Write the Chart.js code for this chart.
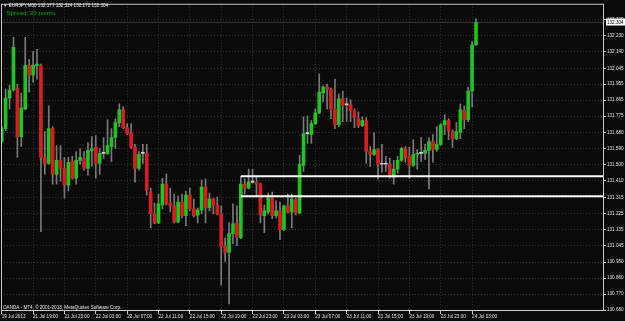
<!DOCTYPE html>
<html>
<head>
<meta charset="utf-8">
<script src="https://cdn.jsdelivr.net/npm/chart.js@4.4.0/dist/chart.umd.min.js"></script>
<style>
  html, body { margin: 0; padding: 0; background: #0b0b0b; }
  canvas { display: block; }
</style>
</head>
<body>
<canvas id="chart" width="625" height="321"></canvas>
<script>
// EURJPY M30, one entry per bar (oldest first)
const symbol = 'EURJPY,M30';
const spreadText = 'Spread: 20 points.';
const footerText = 'OANDA - MT4, \u00a9 2001-2013, MetaQuotes Software Corp.';

const opens = [
  131.631, 131.704, 131.877, 131.922, 131.933, 131.659, 131.816, 132.062, 132.006, 132.059,
  132.062, 131.542, 131.508, 131.704, 131.447, 131.525, 131.480, 131.385, 131.519, 131.424,
  131.525, 131.536, 131.480, 131.581, 131.598, 131.508, 131.564, 131.564, 131.603, 131.654,
  131.738, 131.810, 131.710, 131.682, 131.598, 131.480, 131.564, 131.564, 131.346, 131.223,
  131.172, 131.273, 131.391, 131.284, 131.268, 131.178, 131.290, 131.212, 131.329, 131.251,
  131.217, 131.245, 131.374, 131.256, 131.307, 131.273, 131.223, 131.038, 131.005, 131.111,
  131.172, 131.088, 131.391, 131.368, 131.402, 131.402, 131.391, 131.212, 131.234, 131.312,
  131.212, 131.240, 131.133, 131.268, 131.234, 131.307, 131.228, 131.497, 131.676, 131.670,
  131.732, 131.793, 131.905, 131.939, 131.928, 131.816, 131.726, 131.872, 131.838, 131.838,
  131.805, 131.760, 131.721, 131.749, 131.575, 131.559, 131.586, 131.503, 131.503, 131.503,
  131.430, 131.475, 131.525, 131.592, 131.547, 131.497, 131.559, 131.564, 131.564, 131.581,
  131.631, 131.586, 131.615, 131.726, 131.749, 131.687, 131.648, 131.682, 131.805, 131.754,
  131.916, 132.177
];
const highs = [
  131.715, 131.928, 131.950, 132.219, 131.956, 131.905, 132.219, 132.096, 132.141, 132.152,
  132.068, 131.687, 131.833, 131.715, 131.609, 131.609, 131.542, 131.542, 131.547, 131.575,
  131.592, 131.575, 131.626, 131.659, 131.665, 131.592, 131.654, 131.754, 131.704, 131.760,
  131.844, 131.827, 131.732, 131.732, 131.615, 131.575, 131.615, 131.615, 131.368, 131.284,
  131.335, 131.424, 131.447, 131.368, 131.335, 131.324, 131.335, 131.352, 131.368, 131.307,
  131.256, 131.413, 131.419, 131.340, 131.312, 131.318, 131.268, 131.088, 131.172, 131.279,
  131.268, 131.435, 131.419, 131.475, 131.475, 131.435, 131.396, 131.273, 131.340, 131.346,
  131.296, 131.290, 131.273, 131.335, 131.335, 131.312, 131.553, 131.771, 131.777, 131.749,
  131.816, 132.012, 131.945, 131.956, 131.933, 131.984, 131.900, 131.916, 131.877, 131.866,
  131.816, 131.799, 131.771, 131.766, 131.603, 131.682, 131.592, 131.615, 131.547, 131.536,
  131.525, 131.547, 131.598, 131.603, 131.598, 131.642, 131.586, 131.654, 131.615, 131.654,
  131.670, 131.715, 131.732, 131.782, 131.760, 131.698, 131.738, 131.844, 131.833, 131.939,
  132.196, 132.324
];
const lows = [
  131.626, 131.693, 131.816, 131.916, 131.542, 131.603, 131.810, 131.911, 131.967, 131.984,
  131.122, 131.447, 131.503, 131.391, 131.391, 131.407, 131.312, 131.352, 131.419, 131.391,
  131.503, 131.469, 131.441, 131.491, 131.424, 131.447, 131.536, 131.559, 131.519, 131.592,
  131.715, 131.704, 131.670, 131.592, 131.402, 131.469, 131.508, 131.329, 131.144, 131.167,
  131.167, 131.251, 131.273, 131.234, 131.172, 131.172, 131.200, 131.156, 131.240, 131.206,
  131.172, 131.223, 131.172, 131.240, 131.223, 131.217, 130.820, 130.954, 130.714, 131.055,
  131.044, 131.083, 131.335, 131.363, 131.396, 131.324, 131.172, 131.116, 131.223, 131.195,
  131.200, 131.077, 131.128, 131.228, 131.144, 131.217, 131.223, 131.463, 131.620, 131.620,
  131.726, 131.788, 131.855, 131.816, 131.760, 131.704, 131.715, 131.743, 131.743, 131.743,
  131.710, 131.710, 131.715, 131.508, 131.491, 131.553, 131.419, 131.458, 131.463, 131.424,
  131.391, 131.452, 131.519, 131.514, 131.424, 131.491, 131.475, 131.519, 131.530, 131.363,
  131.514, 131.575, 131.609, 131.670, 131.642, 131.598, 131.642, 131.648, 131.704, 131.743,
  131.827, 132.172
];
const closes = [
  131.704, 131.877, 131.922, 132.163, 131.659, 131.821, 132.062, 132.006, 132.062, 132.068,
  131.542, 131.508, 131.704, 131.447, 131.525, 131.480, 131.385, 131.514, 131.424, 131.525,
  131.542, 131.480, 131.581, 131.592, 131.508, 131.564, 131.564, 131.609, 131.654, 131.738,
  131.810, 131.710, 131.676, 131.598, 131.480, 131.559, 131.564, 131.357, 131.223, 131.172,
  131.279, 131.391, 131.279, 131.268, 131.178, 131.290, 131.212, 131.329, 131.251, 131.212,
  131.245, 131.374, 131.256, 131.307, 131.273, 131.223, 131.038, 131.005, 131.111, 131.167,
  131.094, 131.391, 131.368, 131.402, 131.402, 131.391, 131.217, 131.240, 131.312, 131.212,
  131.240, 131.133, 131.268, 131.234, 131.307, 131.228, 131.503, 131.676, 131.676, 131.732,
  131.793, 131.911, 131.939, 131.928, 131.816, 131.726, 131.872, 131.838, 131.838, 131.805,
  131.766, 131.721, 131.749, 131.575, 131.559, 131.586, 131.503, 131.503, 131.503, 131.430,
  131.475, 131.525, 131.592, 131.542, 131.497, 131.559, 131.564, 131.564, 131.581, 131.631,
  131.586, 131.615, 131.726, 131.749, 131.693, 131.648, 131.687, 131.810, 131.754, 131.916,
  132.177, 132.304
];

// time axis: one label every 8 bars (4 hours of M30)
const timeLabels = [
  '19 Jul 2013', '21 Jul 19:00', '21 Jul 23:00', '22 Jul 03:00', '22 Jul 07:00', '22 Jul 11:00',
  '22 Jul 15:00', '22 Jul 19:00', '22 Jul 23:00', '23 Jul 03:00', '23 Jul 07:00', '23 Jul 11:00',
  '23 Jul 15:00', '23 Jul 19:00', '23 Jul 23:00', '24 Jul 03:00'
];
const priceLabels = [
  '132.320', '132.230', '132.140', '132.045', '131.955', '131.865', '131.775', '131.680', '131.590',
  '131.500', '131.410', '131.315', '131.225', '131.135', '131.045', '130.950', '130.860', '130.770',
  '130.680'
];

// the two horizontal lines drawn on the chart, starting at bar 61
const zoneLevels = [131.435, 131.322];
const zoneStartBar = 61;

const bidPrice = closes[closes.length - 1];

// visible window
const X_MIN = -0.18, X_MAX = 153.65;
const Y_MIN = 130.6744, Y_MAX = 132.4091;

const FONT = '"Liberation Sans", Arial, sans-serif';
const GREEN = '#1fc41f', RED = '#d81e1e', DOJI = '#d0d0d0', WICK = '#7a7a7a';

const wickData = lows.map((l, i) => ({ x: i, y: [l, highs[i]] }));
const bodyData = opens.map((o, i) => ({ x: i, y: [o, closes[i]] }));

function bodyColor(ctx) {
    const i = ctx.dataIndex;
    const d = closes[i] - opens[i];
    if (d > 0) return GREEN;
    if (d < 0) return RED;
    return DOJI;
}

function drawText(ctx, text, x, y, color, size) {
    ctx.font = size + 'px ' + FONT;
    ctx.fillStyle = color;
    ctx.textBaseline = 'middle';
    ctx.textAlign = 'left';
    ctx.fillText(text, x, y);
}

const mtDecor = {
    id: 'mtDecor',
    beforeDraw(chart) {
        const { ctx, width, height } = chart;
        ctx.save();
        ctx.fillStyle = '#0b0b0b';
        ctx.fillRect(0, 0, width, height);
        ctx.restore();
    },
    afterDraw(chart) {
        const { ctx, chartArea: a, scales: { y } } = chart;
        ctx.save();
        // frame round the plot
        ctx.strokeStyle = '#c8c8c8';
        ctx.lineWidth = 1;
        ctx.strokeRect(a.left + 0.5, a.top + 0.5, a.right - a.left - 1, a.bottom - a.top - 1);

        // header + spread + footer
        const n = closes.length - 1;
        const head = '\u25BC ' + symbol + ' ' + [opens[n], highs[n], lows[n], closes[n]].map(v => v.toFixed(3)).join(' ');
        drawText(ctx, head, 3, 5.5, '#e6e6e6', 4.6);
        drawText(ctx, spreadText, 6.5, 13, '#00a800', 6.2);
        drawText(ctx, footerText, 3, 308, '#e6e6e6', 4.6);

        // current bid label on the price axis
        const by = Math.round(y.getPixelForValue(bidPrice));
        ctx.fillStyle = '#ffffff';
        ctx.fillRect(a.right + 2, by - 3.5, 19, 7);
        drawText(ctx, bidPrice.toFixed(3), a.right + 3, by + 0.3, '#000000', 4.6);
        ctx.restore();
    }
};

new Chart(document.getElementById('chart'), {
    type: 'bar',
    data: {
        datasets: [
            {
                type: 'line',
                label: 'zone top',
                data: [{ x: zoneStartBar, y: zoneLevels[0] }, { x: X_MAX, y: zoneLevels[0] }],
                borderColor: '#ffffff',
                borderWidth: 2,
                pointRadius: 0,
                order: 0
            },
            {
                type: 'line',
                label: 'zone bottom',
                data: [{ x: zoneStartBar, y: zoneLevels[1] }, { x: X_MAX, y: zoneLevels[1] }],
                borderColor: '#ffffff',
                borderWidth: 2,
                pointRadius: 0,
                order: 0
            },
            {
                label: 'body',
                data: bodyData,
                backgroundColor: bodyColor,
                borderWidth: 0,
                barThickness: 3,
                minBarLength: 1,
                grouped: false,
                order: 1
            },
            {
                label: 'wick',
                data: wickData,
                backgroundColor: WICK,
                borderWidth: 0,
                barThickness: 1,
                grouped: false,
                order: 2
            },
            {
                type: 'line',
                label: 'bid',
                data: [{ x: X_MIN, y: bidPrice }, { x: X_MAX, y: bidPrice }],
                borderColor: '#3a3a3a',
                borderWidth: 1,
                pointRadius: 0,
                order: 3
            }
        ]
    },
    options: {
        responsive: false,
        animation: false,
        devicePixelRatio: 1,
        layout: { padding: { left: 1, top: 1, right: 0, bottom: 0 } },
        plugins: {
            legend: { display: false },
            tooltip: { enabled: false }
        },
        scales: {
            x: {
                type: 'linear',
                min: X_MIN,
                max: X_MAX,
                offset: false,
                afterBuildTicks: (scale) => {
                    scale.ticks = timeLabels.map((_, i) => ({ value: i * 8 }));
                },
                afterFit: (scale) => { scale.height = 10; },
                ticks: {
                    autoSkip: false,
                    maxRotation: 0,
                    align: 'start',
                    padding: 0,
                    color: '#e0e0e0',
                    font: { family: FONT, size: 4.6 },
                    callback: (v, i) => timeLabels[i]
                },
                grid: {
                    offset: false,
                    color: '#343434',
                    tickColor: '#c8c8c8',
                    tickLength: 3,
                    tickBorderDash: []
                },
                border: { display: false, dash: [1, 2] }
            },
            y: {
                type: 'linear',
                position: 'right',
                min: Y_MIN,
                max: Y_MAX,
                afterBuildTicks: (scale) => {
                    scale.ticks = priceLabels.map(s => ({ value: Number(s) }));
                },
                afterFit: (scale) => { scale.width = 21; },
                ticks: {
                    autoSkip: false,
                    padding: 1,
                    color: '#e0e0e0',
                    font: { family: FONT, size: 4.6 },
                    callback: (v) => v.toFixed(3)
                },
                grid: {
                    color: '#343434',
                    tickColor: '#c8c8c8',
                    tickLength: 2,
                    tickBorderDash: []
                },
                border: { display: false, dash: [1, 2] }
            }
        }
    },
    plugins: [mtDecor]
});
</script>
</body>
</html>
